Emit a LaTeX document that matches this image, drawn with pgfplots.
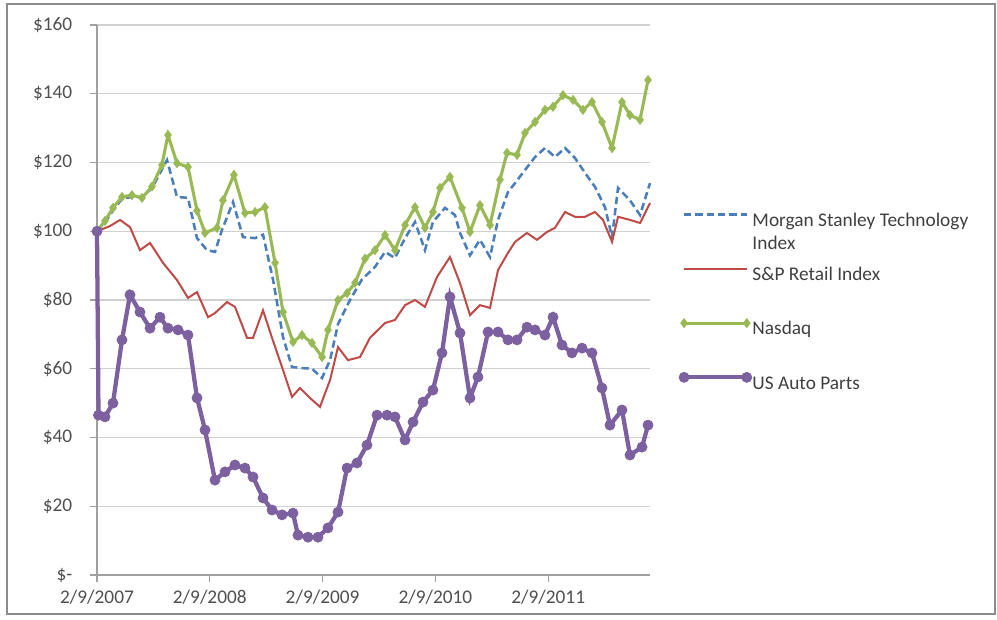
\documentclass[border=0pt]{standalone}
\usepackage{pgfplots}
\pgfplotsset{compat=1.18}
\usepackage{fontspec}
\setmainfont{Carlito}
\definecolor{msblue}{HTML}{4A7EBB}
\definecolor{spred}{HTML}{BE4B48}
\definecolor{nqgreen}{HTML}{98B954}
\definecolor{uspurple}{HTML}{7D60A0}
\definecolor{gridcol}{HTML}{D0D0D0}
\definecolor{axiscol}{HTML}{A0A0A0}
\definecolor{tickcol}{HTML}{505050}
\definecolor{legcol}{HTML}{404040}
\begin{document}
\begin{tikzpicture}
\path[use as bounding box] (0pt,0pt) rectangle (747.75pt,464.25pt);
\fill[white] (0pt,0pt) rectangle (747.75pt,464.25pt);
\draw[black!45, line width=1.3pt] (5.25pt,3.75pt) rectangle (746.25pt,461.25pt);
\begin{axis}[
  at={(72.75pt,33pt)}, anchor=south west,
  scale only axis, width=414.75pt, height=412.5pt,
  xmin=0, xmax=58.83, ymin=0, ymax=160,
  clip=false,
  axis x line*=bottom, axis y line*=left,
  axis line style={axiscol, line width=1.2pt},
  tick align=outside, major tick length=5pt,
  tick style={axiscol, line width=1pt},
  xtick={0,12,24,36,48},
  xticklabels={2/9/2007,2/9/2008,2/9/2009,2/9/2010,2/9/2011},
  ytick={0,20,40,60,80,100,120,140,160},
  yticklabels={\$-,\$20,\$40,\$60,\$80,\$100,\$120,\$140,\$160},
  ymajorgrids, grid style={gridcol, line width=1pt},
  ticklabel style={font=\fontsize{14.5}{17}\selectfont, text=tickcol},
  yticklabel style={xshift=-10pt},
  xticklabel style={yshift=-3pt},
  legend style={at={(axis description cs:1.052,0.665)}, anchor=north west,
    draw=none, fill=none, font=\fontsize{14.5}{17.4}\selectfont, text=legcol,
    row sep=26pt, inner sep=0pt, column sep=0pt, nodes={inner sep=0.5pt}},
  legend cell align=left,
  legend image code/.code={\draw[#1] plot coordinates {(0pt,3.5pt) (47pt,3.5pt)};},
]
\addplot[msblue, line width=1.9pt, dash pattern=on 5.5pt off 3pt, mark=none] coordinates {
(0,100)(0.96,103)(1.70,106)(2.66,109.5)(3.72,110)(4.79,110)(5.85,112.5)(6.91,118)(7.45,120.7)(8.51,110)(9.68,109.7)(10.64,98)(11.70,94.5)(12.55,94)(13.30,100.4)(14.47,108.5)(15.53,98.3)(16.81,98)(17.66,99)(18.72,86)(19.79,69.2)(20.74,60.5)(21.81,60.2)(22.87,60)(23.94,57.3)(24.79,62.5)(25.64,73)(26.91,80)(28.19,86)(29.57,89.6)(30.64,94)(31.70,92.2)(32.77,98)(33.83,102.7)(34.89,94.5)(35.74,102.7)(37.02,106.8)(38.09,104.7)(38.62,99.5)(39.68,93)(40.74,97.5)(41.81,92.5)(42.66,103.3)(43.72,111.4)(44.47,114)(45.53,117.8)(46.60,121.6)(47.66,124.2)(48.72,121.6)(49.79,124.2)(50.85,121.3)(51.91,117)(52.98,112.9)(54.04,107)(54.79,98.3)(55.43,112.6)(56.70,109)(57.77,104.7)(58.83,114)
};
\addlegendentry{\raisebox{0pt}[\height][2pt]{\begin{tabular}[t]{@{}l@{}}Morgan Stanley Technology\\Index\end{tabular}}}
\addplot[spred, line width=1.5pt, mark=none] coordinates {
(0,100)(1.38,101.5)(2.45,103.3)(3.51,101.2)(4.57,94.5)(5.64,96.6)(7.02,90.8)(8.51,85.8)(9.68,80.6)(10.64,82.3)(11.81,75)(12.55,76.2)(13.83,79.4)(14.68,78)(15.96,69)(16.60,69)(17.66,77)(18.62,69)(19.68,60.5)(20.74,51.8)(21.60,54.4)(22.66,51.5)(23.72,48.9)(24.79,56.7)(25.64,66.3)(26.70,62.5)(27.98,63.4)(29.04,69)(30.64,73.3)(31.70,74.2)(32.77,78.5)(33.83,80)(34.89,78)(36.17,86.7)(37.55,92.5)(38.62,84.9)(39.68,75.6)(40.74,78.5)(41.81,77.7)(42.66,88.7)(43.72,93.7)(44.47,96.9)(45.74,99.5)(46.81,97.5)(47.87,99.8)(48.72,101)(49.79,105.6)(50.85,104.2)(51.91,104.2)(52.98,105.6)(53.83,103.3)(54.79,96.9)(55.43,104.2)(56.70,103.3)(57.77,102.4)(58.83,108.2)
};
\addlegendentry{\strut S\&P Retail Index}
\addplot[nqgreen, line width=2.3pt, mark=diamond*, mark size=3.4pt, mark options={solid, line width=0.5pt}] coordinates {
(0,100)(0.85,103)(1.70,106.8)(2.66,110)(3.72,110.5)(4.79,109.7)(5.85,113)(6.91,119.3)(7.55,128)(8.51,119.8)(9.68,118.7)(10.64,106)(11.49,99.5)(12.77,101)(13.40,109)(14.57,116.4)(15.74,105.3)(16.81,105.6)(17.87,107)(18.94,90.8)(19.79,76.5)(20.85,67.8)(21.81,69.8)(22.87,67.5)(23.94,63.4)(24.57,71.3)(25.64,80)(26.60,82)(27.45,85)(28.51,92)(29.57,94.5)(30.64,98.9)(31.70,94.5)(32.77,101.8)(33.83,107)(34.89,101)(35.74,105.6)(36.49,112.6)(37.55,115.8)(38.83,106.8)(39.68,99.8)(40.74,107.6)(41.81,101.8)(42.87,115)(43.62,122.8)(44.68,122.2)(45.53,128.6)(46.60,131.8)(47.66,135.3)(48.51,136.2)(49.57,139.6)(50.64,138.2)(51.70,135.3)(52.66,137.6)(53.72,131.8)(54.79,124.2)(55.85,137.6)(56.70,133.8)(57.77,132.4)(58.62,144)
};
\addlegendentry{\strut Nasdaq}
\addplot[uspurple, line width=3.2pt, mark=*, mark size=3.8pt, mark options={solid, line width=0.5pt}] coordinates {
(0,100)(0.16,46.5)(0.85,46)(1.70,50)(2.66,68.4)(3.51,81.5)(4.57,76.5)(5.64,71.8)(6.70,75)(7.55,71.8)(8.62,71.3)(9.68,69.8)(10.64,51.5)(11.49,42.2)(12.55,27.6)(13.62,30)(14.68,32)(15.74,31.1)(16.60,28.5)(17.66,22.4)(18.62,18.9)(19.68,17.5)(20.85,18)(21.38,11.6)(22.45,11)(23.51,11)(24.57,13.7)(25.64,18.3)(26.60,31.1)(27.66,32.6)(28.72,37.8)(29.79,46.5)(30.85,46.5)(31.70,46)(32.77,39.3)(33.62,44.5)(34.68,50.3)(35.74,53.8)(36.70,64.6)(37.55,80.9)(38.62,70.4)(39.68,51.5)(40.53,57.6)(41.60,70.7)(42.66,70.7)(43.72,68.4)(44.68,68.4)(45.74,72.1)(46.60,71.3)(47.66,69.8)(48.51,75)(49.47,66.9)(50.53,64.6)(51.60,66)(52.66,64.6)(53.72,54.4)(54.57,43.6)(55.85,48)(56.70,34.9)(57.98,37.2)(58.62,43.6)
};
\addlegendentry{\strut US Auto Parts}
\end{axis}
\end{tikzpicture}
\end{document}
